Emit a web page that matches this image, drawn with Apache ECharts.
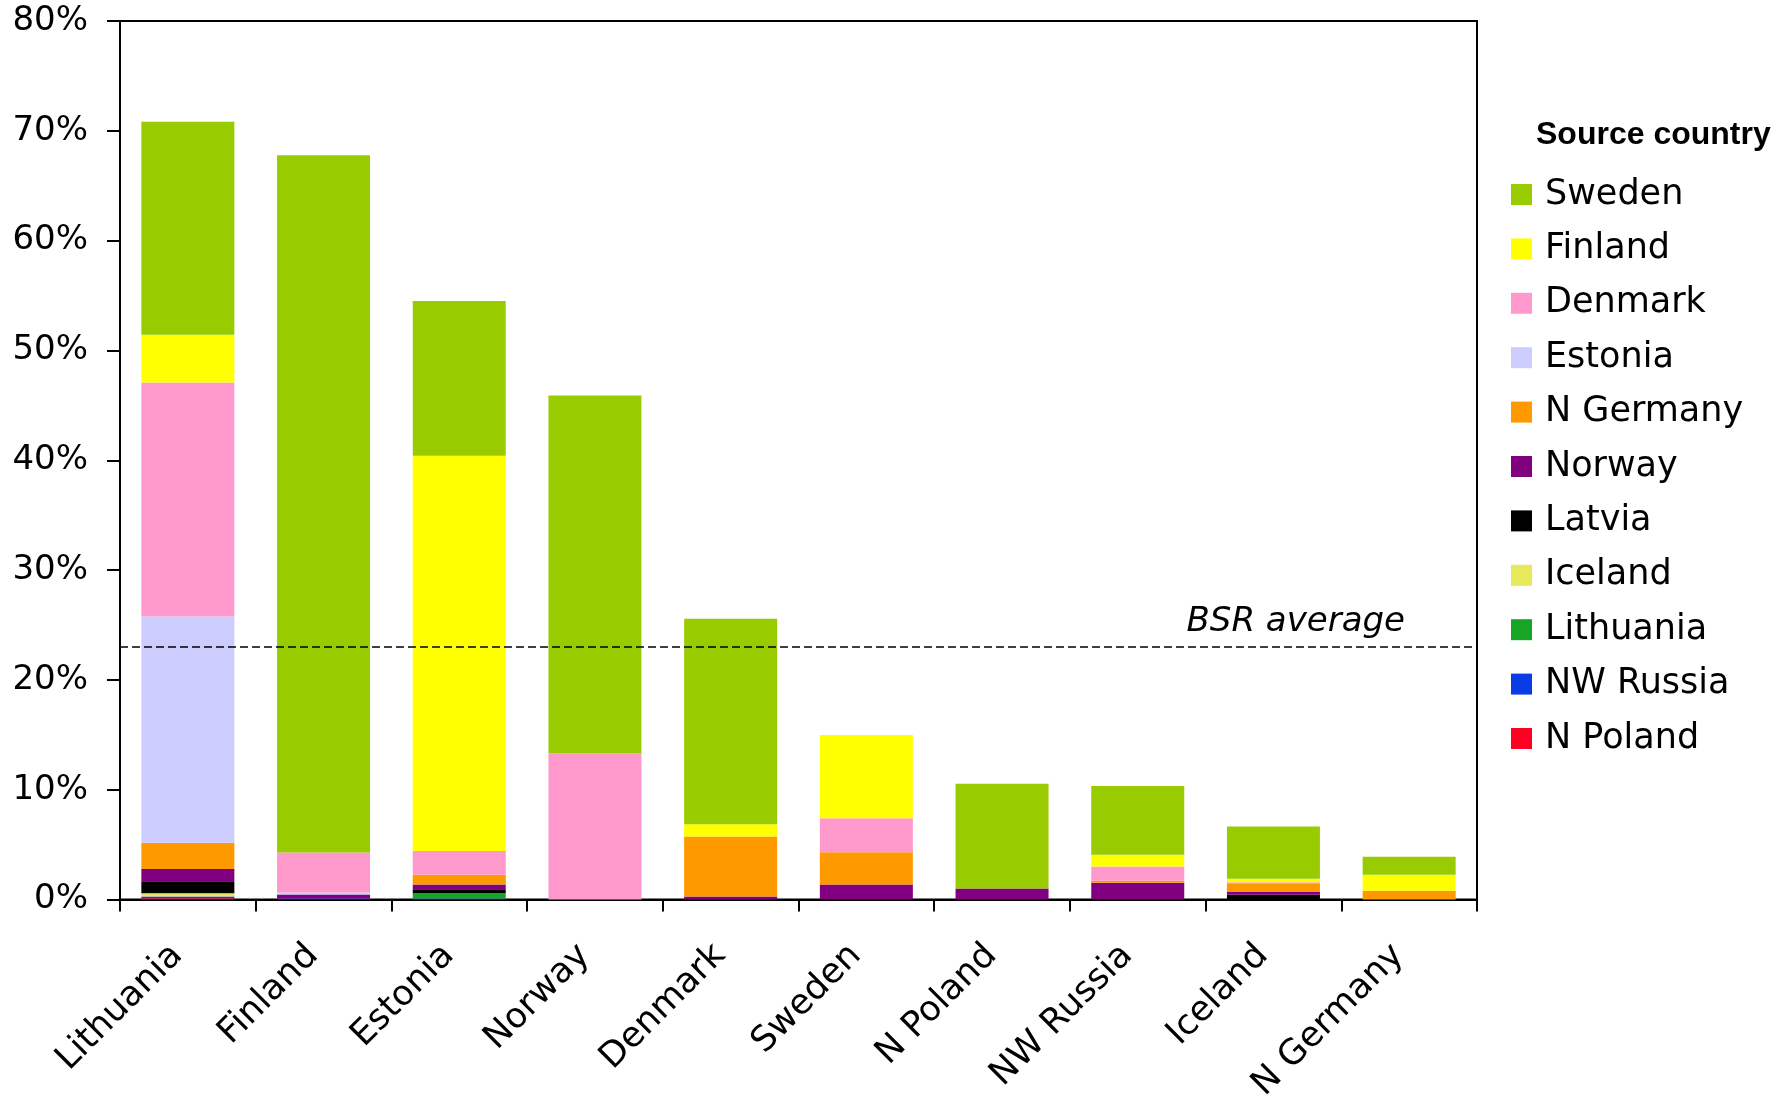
<!DOCTYPE html>
<html>
<head>
<meta charset="utf-8">
<script src="https://cdn.jsdelivr.net/npm/echarts@6/dist/echarts.min.js"></script>
<style>
html,body{margin:0;padding:0;background:#fff;}
#chart{width:1792px;height:1096px;}
</style>
</head>
<body>
<div id="chart"></div>
<script>
// Destination regions (x axis)
var categories = ['Lithuania','Finland','Estonia','Norway','Denmark','Sweden','N Poland','NW Russia','Iceland','N Germany'];
// Source-country contributions, percent
var sweden    = [19.4, 63.5, 14.1, 32.6, 18.7, 0,    9.55, 6.27, 4.74, 1.64];
var finland   = [4.35, 0,    36.0, 0,    1.12, 7.57, 0,    1.07, 0.34, 1.46];
var denmark   = [21.3, 3.65, 2.16, 13.3, 0,    3.1,  0,    1.3,  0.15, 0];
var estonia   = [20.6, 0.18, 0,    0,    0,    0,    0,    0,    0,    0];
var nGermany  = [2.4,  0,    0.88, 0,    5.47, 2.94, 0,    0.18, 0.73, 0.79];
var norway    = [1.1,  0.35, 0.43, 0,    0.27, 1.37, 1.0,  1.52, 0.25, 0];
var latvia    = [1.1,  0,    0.36, 0,    0,    0,    0,    0,    0.43, 0];
var iceland   = [0.3,  0,    0,    0,    0,    0,    0,    0,    0,    0];
var lithuania = [0,    0,    0.48, 0,    0,    0,    0,    0,    0,    0];
var nwRussia  = [0.15, 0.1,  0.1,  0,    0,    0,    0,    0,    0,    0];
var nPoland   = [0.12, 0,    0,    0,    0,    0,    0,    0,    0,    0];
var bsrAverage = 23;
var yTicks = [0, 10, 20, 30, 40, 50, 60, 70, 80];

var legendOrder = ['Sweden','Finland','Denmark','Estonia','N Germany','Norway','Latvia','Iceland','Lithuania','NW Russia','N Poland'];
var stackDefs = [
  ['N Poland', nPoland, '#FF0022'],
  ['NW Russia', nwRussia, '#0A3CE6'],
  ['Lithuania', lithuania, '#19A524'],
  ['Iceland', iceland, '#E8E85C'],
  ['Latvia', latvia, '#000000'],
  ['Norway', norway, '#800080'],
  ['N Germany', nGermany, '#FF9900'],
  ['Estonia', estonia, '#CCCCFF'],
  ['Denmark', denmark, '#FF99CC'],
  ['Finland', finland, '#FFFF00'],
  ['Sweden', sweden, '#99CC00']
];

var FONT = '"DejaVu Sans", sans-serif';
var series = stackDefs.map(function (d, i) {
  var s = {
    name: d[0], type: 'bar', stack: 'total', data: d[1],
    barWidth: 93,
    itemStyle: { color: d[2] },
    emphasis: { disabled: true }
  };
  if (d[0] === 'Sweden') {
    s.markLine = {
      silent: true,
      symbol: ['none', 'none'],
      data: [{ yAxis: bsrAverage }],
      lineStyle: { color: '#000', type: [8, 4], width: 1.5 },
      label: {
        show: true, formatter: 'BSR average', position: 'insideEndTop',
        fontFamily: FONT, fontStyle: 'italic', fontSize: 34, color: '#000',
        distance: [72, 8]
      }
    };
  }
  return s;
});

var chart = echarts.init(document.getElementById('chart'));
chart.setOption({
  animation: false,
  backgroundColor: '#fff',
  title: {
    text: 'Source country', left: 1536, top: 119, padding: 0,
    textStyle: { fontFamily: '"Liberation Sans", Arial, sans-serif', fontWeight: 'bold', fontSize: 32, color: '#000' }
  },
  legend: {
    data: legendOrder, orient: 'vertical', left: 1506, top: 172,
    icon: 'rect', itemWidth: 21, itemHeight: 21, itemGap: 19.4,
    textStyle: { fontFamily: FONT, fontSize: 35, lineHeight: 34, color: '#000', padding: [0, 0, 0, 8] },
    selectedMode: false
  },
  grid: {
    left: 120, right: 315, top: 21, bottom: 196.5,
    show: true, borderColor: '#000', borderWidth: 2,
    containLabel: false, outerBoundsMode: 'none'
  },
  xAxis: {
    type: 'category', data: categories,
    axisLine: { lineStyle: { color: '#000', width: 2 } },
    axisTick: { show: true, length: 12, lineStyle: { color: '#000', width: 2 } },
    axisLabel: { rotate: 45, margin: 40, padding: [0, 15, 0, 0], fontFamily: FONT, fontSize: 35, color: '#000', interval: 0 }
  },
  yAxis: {
    type: 'value', min: 0, max: 80, interval: 10,
    axisLine: { show: true, lineStyle: { color: '#000', width: 2 } },
    axisTick: { show: true, length: 13, lineStyle: { color: '#000', width: 2 } },
    splitLine: { show: false },
    axisLabel: {
      margin: 32, fontFamily: FONT, fontSize: 34, color: '#000',
      formatter: function (v) { return yTicks.indexOf(v) >= 0 ? v + '%' : ''; }
    }
  },
  series: series
});
</script>
</body>
</html>
